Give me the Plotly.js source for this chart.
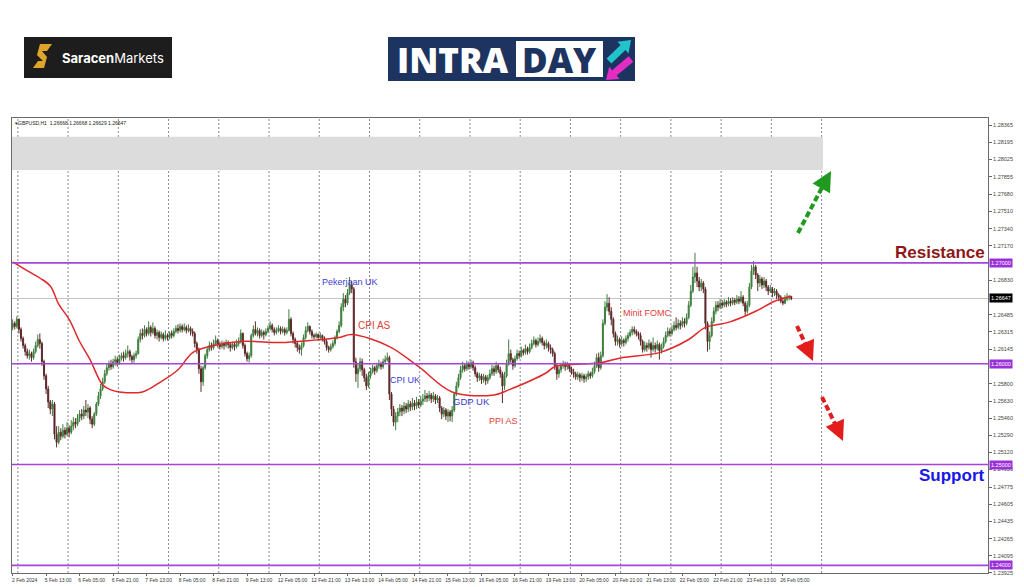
<!DOCTYPE html>
<html><head><meta charset="utf-8">
<script src="https://cdn.plot.ly/plotly-3.0.1.min.js"></script>
<style>html,body{margin:0;padding:0;background:#fff;}#chart{width:1024px;height:587px;}</style>
</head><body><div id="chart"></div>
<script>
const symbol = 'GBPUSD,H1';
const timeLabels = ['2 Feb 2024','5 Feb 13:00','6 Feb 05:00','6 Feb 21:00','7 Feb 13:00','8 Feb 05:00','8 Feb 21:00','9 Feb 13:00','12 Feb 05:00','12 Feb 21:00','13 Feb 13:00','14 Feb 05:00','14 Feb 21:00','15 Feb 13:00','16 Feb 05:00','16 Feb 21:00','19 Feb 13:00','20 Feb 05:00','20 Feb 21:00','21 Feb 13:00','22 Feb 05:00','22 Feb 21:00','23 Feb 13:00','26 Feb 05:00'];
const barsPerLabel = 16;
const barsPerDay = 24;

const open = [
1.2636,1.2640,1.2637,1.2644,1.2634,1.2625,1.2618,1.2612,1.2608,1.2610,
1.2606,1.2612,1.2618,1.2624,1.2620,1.2602,1.2588,1.2575,1.2562,1.2555,
1.2560,1.2530,1.2522,1.2532,1.2528,1.2534,1.2530,1.2536,1.2532,1.2538,
1.2542,1.2540,1.2546,1.2550,1.2548,1.2554,1.2552,1.2556,1.2545,1.2540,
1.2550,1.2560,1.2568,1.2575,1.2582,1.2590,1.2596,1.2600,1.2597,1.2602,
1.2604,1.2601,1.2605,1.2608,1.2606,1.2610,1.2612,1.2607,1.2604,1.2608,
1.2610,1.2624,1.2630,1.2628,1.2634,1.2630,1.2636,1.2631,1.2635,1.2628,
1.2631,1.2626,1.2629,1.2625,1.2628,1.2626,1.2630,1.2628,1.2632,1.2635,
1.2633,1.2637,1.2634,1.2636,1.2633,1.2635,1.2632,1.2630,1.2620,1.2614,
1.2595,1.2582,1.2596,1.2608,1.2614,1.2618,1.2616,1.2620,1.2623,1.2619,
1.2617,1.2620,1.2618,1.2621,1.2619,1.2616,1.2619,1.2617,1.2620,1.2622,
1.2630,1.2618,1.2610,1.2605,1.2608,1.2628,1.2634,1.2630,1.2633,1.2628,
1.2631,1.2629,1.2632,1.2635,1.2638,1.2634,1.2631,1.2633,1.2635,1.2632,
1.2634,1.2631,1.2633,1.2644,1.2630,1.2624,1.2620,1.2616,1.2614,1.2618,
1.2626,1.2633,1.2637,1.2632,1.2628,1.2627,1.2629,1.2626,1.2628,1.2625,
1.2622,1.2616,1.2614,1.2617,1.2620,1.2626,1.2632,1.2638,1.2656,1.2664,
1.2660,1.2670,1.2678,1.2674,1.2602,1.2590,1.2595,1.2602,1.2594,1.2586,
1.2578,1.2588,1.2592,1.2596,1.2593,1.2598,1.2600,1.2597,1.2602,1.2604,
1.2606,1.2570,1.2555,1.2542,1.2548,1.2552,1.2556,1.2553,1.2558,1.2555,
1.2560,1.2557,1.2561,1.2558,1.2562,1.2559,1.2563,1.2565,1.2568,1.2566,
1.2569,1.2565,1.2568,1.2564,1.2566,1.2556,1.2550,1.2554,1.2548,1.2552,
1.2548,1.2554,1.2570,1.2578,1.2586,1.2594,1.2598,1.2595,1.2600,1.2597,
1.2601,1.2596,1.2590,1.2586,1.2588,1.2584,1.2587,1.2583,1.2586,1.2590,
1.2595,1.2592,1.2598,1.2594,1.2590,1.2578,1.2588,1.2600,1.2610,1.2604,
1.2598,1.2605,1.2610,1.2608,1.2613,1.2611,1.2615,1.2612,1.2616,1.2620,
1.2623,1.2619,1.2622,1.2625,1.2621,1.2618,1.2620,1.2616,1.2614,1.2610,
1.2598,1.2590,1.2594,1.2598,1.2600,1.2597,1.2599,1.2595,1.2592,1.2590,
1.2587,1.2589,1.2586,1.2588,1.2585,1.2587,1.2590,1.2588,1.2592,1.2598,
1.2606,1.2596,1.2608,1.2640,1.2656,1.2660,1.2652,1.2644,1.2630,1.2622,
1.2624,1.2620,1.2623,1.2621,1.2625,1.2628,1.2631,1.2634,1.2632,1.2630,
1.2628,1.2622,1.2614,1.2618,1.2616,1.2620,1.2614,1.2618,1.2615,1.2619,
1.2613,1.2617,1.2622,1.2628,1.2632,1.2630,1.2634,1.2638,1.2636,1.2640,
1.2638,1.2642,1.2640,1.2646,1.2658,1.2672,1.2686,1.2690,1.2682,1.2676,
1.2680,1.2674,1.2640,1.2622,1.2628,1.2642,1.2652,1.2658,1.2656,1.2660,
1.2658,1.2661,1.2659,1.2662,1.2660,1.2663,1.2661,1.2664,1.2662,1.2666,
1.2660,1.2652,1.2658,1.2676,1.2692,1.2696,1.2688,1.2680,1.2684,1.2678,
1.2682,1.2676,1.2672,1.2674,1.2670,1.2672,1.2668,1.2666,1.2662,1.2660,
1.2664,1.2666,1.26668];

const high = [
1.2644,1.2642,1.2647,1.2645,1.2636,1.2627,1.2620,1.2615,1.2614,1.2612,
1.2615,1.2622,1.2629,1.2630,1.2622,1.2604,1.2590,1.2578,1.2564,1.2564,
1.2562,1.2538,1.2538,1.2536,1.2540,1.2537,1.2542,1.2539,1.2544,1.2547,
1.2546,1.2550,1.2554,1.2555,1.2558,1.2564,1.2560,1.2558,1.2548,1.2552,
1.2562,1.2572,1.2580,1.2586,1.2594,1.2600,1.2603,1.2604,1.2605,1.2608,
1.2607,1.2609,1.2611,1.2612,1.2614,1.2618,1.2614,1.2609,1.2611,1.2613,
1.2627,1.2634,1.2635,1.2638,1.2636,1.2642,1.2638,1.2641,1.2637,1.2634,
1.2633,1.2632,1.2631,1.2633,1.2630,1.2632,1.2633,1.2635,1.2638,1.2639,
1.2640,1.2639,1.2640,1.2638,1.2639,1.2637,1.2635,1.2632,1.2622,1.2616,
1.2598,1.2598,1.2610,1.2617,1.2622,1.2621,1.2624,1.2628,1.2625,1.2622,
1.2623,1.2622,1.2624,1.2623,1.2621,1.2622,1.2621,1.2624,1.2626,1.2634,
1.2631,1.2620,1.2612,1.2611,1.2630,1.2638,1.2642,1.2636,1.2635,1.2634,
1.2633,1.2635,1.2638,1.2642,1.2640,1.2636,1.2636,1.2638,1.2637,1.2637,
1.2636,1.2636,1.2654,1.2646,1.2632,1.2626,1.2622,1.2619,1.2621,1.2629,
1.2637,1.2641,1.2638,1.2634,1.2630,1.2631,1.2630,1.2631,1.2629,1.2627,
1.2624,1.2618,1.2620,1.2623,1.2628,1.2634,1.2642,1.2660,1.2670,1.2668,
1.2674,1.2686,1.2682,1.2676,1.2606,1.2600,1.2606,1.2605,1.2596,1.2590,
1.2592,1.2596,1.2599,1.2598,1.2601,1.2604,1.2602,1.2605,1.2608,1.2611,
1.2608,1.2572,1.2558,1.2552,1.2556,1.2560,1.2559,1.2562,1.2561,1.2564,
1.2563,1.2566,1.2564,1.2567,1.2565,1.2568,1.2570,1.2574,1.2571,1.2573,
1.2571,1.2572,1.2570,1.2569,1.2568,1.2558,1.2557,1.2556,1.2555,1.2554,
1.2558,1.2572,1.2582,1.2590,1.2598,1.2602,1.2600,1.2603,1.2602,1.2604,
1.2603,1.2598,1.2592,1.2591,1.2590,1.2590,1.2589,1.2589,1.2594,1.2599,
1.2598,1.2602,1.2600,1.2597,1.2592,1.2592,1.2604,1.2624,1.2614,1.2606,
1.2608,1.2614,1.2613,1.2617,1.2615,1.2619,1.2617,1.2620,1.2624,1.2627,
1.2625,1.2626,1.2629,1.2627,1.2623,1.2624,1.2622,1.2619,1.2616,1.2612,
1.2600,1.2597,1.2601,1.2603,1.2602,1.2602,1.2600,1.2597,1.2595,1.2592,
1.2592,1.2591,1.2591,1.2590,1.2590,1.2593,1.2592,1.2596,1.2602,1.2610,
1.2611,1.2612,1.2644,1.2662,1.2669,1.2666,1.2656,1.2646,1.2632,1.2628,
1.2626,1.2627,1.2625,1.2628,1.2631,1.2634,1.2637,1.2637,1.2634,1.2632,
1.2631,1.2624,1.2622,1.2621,1.2624,1.2622,1.2626,1.2621,1.2623,1.2621,
1.2620,1.2626,1.2632,1.2636,1.2635,1.2638,1.2642,1.2646,1.2644,1.2643,
1.2646,1.2645,1.2650,1.2662,1.2678,1.2696,1.2710,1.2696,1.2686,1.2684,
1.2682,1.2676,1.2642,1.2632,1.2646,1.2656,1.2662,1.2662,1.2664,1.2663,
1.2664,1.2663,1.2666,1.2665,1.2666,1.2665,1.2668,1.2667,1.2672,1.2668,
1.2662,1.2662,1.2680,1.2698,1.2702,1.2698,1.2690,1.2688,1.2686,1.2686,
1.2684,1.2678,1.2678,1.2676,1.2675,1.2674,1.2670,1.2668,1.2666,1.2668,
1.2670,1.2668,1.26668];

const low = [
1.2633,1.2634,1.2635,1.2630,1.2622,1.2615,1.2608,1.2605,1.2604,1.2602,
1.2604,1.2610,1.2616,1.2615,1.2598,1.2584,1.2570,1.2556,1.2550,1.2548,
1.2525,1.2517,1.2520,1.2524,1.2526,1.2526,1.2528,1.2527,1.2530,1.2534,
1.2536,1.2538,1.2542,1.2544,1.2545,1.2548,1.2546,1.2540,1.2536,1.2538,
1.2548,1.2558,1.2565,1.2573,1.2580,1.2588,1.2593,1.2594,1.2595,1.2598,
1.2597,1.2599,1.2603,1.2602,1.2604,1.2606,1.2603,1.2600,1.2601,1.2605,
1.2609,1.2621,1.2624,1.2626,1.2627,1.2628,1.2627,1.2629,1.2625,1.2624,
1.2622,1.2624,1.2622,1.2623,1.2623,1.2624,1.2625,1.2626,1.2630,1.2630,
1.2631,1.2631,1.2632,1.2630,1.2631,1.2628,1.2627,1.2616,1.2610,1.2590,
1.2572,1.2578,1.2594,1.2605,1.2612,1.2613,1.2614,1.2618,1.2616,1.2614,
1.2615,1.2614,1.2616,1.2615,1.2612,1.2614,1.2613,1.2615,1.2617,1.2620,
1.2615,1.2607,1.2602,1.2601,1.2606,1.2626,1.2628,1.2627,1.2625,1.2626,
1.2624,1.2627,1.2630,1.2633,1.2631,1.2628,1.2629,1.2631,1.2629,1.2630,
1.2628,1.2629,1.2632,1.2627,1.2620,1.2616,1.2612,1.2610,1.2608,1.2616,
1.2624,1.2631,1.2629,1.2625,1.2624,1.2625,1.2623,1.2624,1.2622,1.2619,
1.2613,1.2611,1.2612,1.2615,1.2618,1.2624,1.2630,1.2636,1.2652,1.2656,
1.2658,1.2668,1.2670,1.2596,1.2582,1.2576,1.2592,1.2588,1.2582,1.2574,
1.2576,1.2585,1.2590,1.2589,1.2591,1.2595,1.2594,1.2595,1.2600,1.2602,
1.2564,1.2548,1.2538,1.2534,1.2542,1.2548,1.2548,1.2550,1.2551,1.2552,
1.2553,1.2554,1.2554,1.2555,1.2556,1.2557,1.2559,1.2562,1.2562,1.2563,
1.2561,1.2562,1.2560,1.2561,1.2552,1.2545,1.2547,1.2544,1.2542,1.2543,
1.2542,1.2552,1.2568,1.2576,1.2584,1.2591,1.2592,1.2593,1.2594,1.2595,
1.2593,1.2587,1.2582,1.2583,1.2580,1.2581,1.2579,1.2580,1.2584,1.2588,
1.2588,1.2590,1.2591,1.2586,1.2561,1.2574,1.2586,1.2598,1.2601,1.2594,
1.2596,1.2603,1.2605,1.2606,1.2608,1.2609,1.2609,1.2610,1.2614,1.2618,
1.2616,1.2617,1.2620,1.2618,1.2614,1.2615,1.2612,1.2610,1.2607,1.2594,
1.2584,1.2586,1.2591,1.2595,1.2593,1.2594,1.2592,1.2589,1.2586,1.2584,
1.2584,1.2582,1.2583,1.2581,1.2582,1.2584,1.2585,1.2586,1.2590,1.2596,
1.2592,1.2594,1.2606,1.2638,1.2652,1.2648,1.2638,1.2626,1.2618,1.2618,
1.2616,1.2617,1.2617,1.2619,1.2622,1.2626,1.2628,1.2629,1.2627,1.2624,
1.2618,1.2611,1.2612,1.2612,1.2614,1.2606,1.2612,1.2611,1.2613,1.2604,
1.2610,1.2615,1.2620,1.2626,1.2627,1.2628,1.2632,1.2633,1.2634,1.2634,
1.2636,1.2636,1.2638,1.2644,1.2656,1.2670,1.2680,1.2676,1.2672,1.2672,
1.2670,1.2634,1.2612,1.2614,1.2626,1.2640,1.2649,1.2652,1.2654,1.2655,
1.2656,1.2656,1.2657,1.2657,1.2658,1.2658,1.2659,1.2659,1.2660,1.2657,
1.2648,1.2650,1.2656,1.2674,1.2688,1.2684,1.2672,1.2676,1.2674,1.2675,
1.2672,1.2668,1.2670,1.2666,1.2667,1.2664,1.2662,1.2660,1.2658,1.2659,
1.2662,1.2663,1.26629];

const close = [
1.2640,1.2637,1.2644,1.2634,1.2625,1.2618,1.2612,1.2608,1.2610,1.2606,
1.2612,1.2618,1.2624,1.2620,1.2602,1.2588,1.2575,1.2562,1.2555,1.2560,
1.2530,1.2522,1.2532,1.2528,1.2534,1.2530,1.2536,1.2532,1.2538,1.2542,
1.2540,1.2546,1.2550,1.2548,1.2554,1.2552,1.2556,1.2545,1.2540,1.2550,
1.2560,1.2568,1.2575,1.2582,1.2590,1.2596,1.2600,1.2597,1.2602,1.2604,
1.2601,1.2605,1.2608,1.2606,1.2610,1.2612,1.2607,1.2604,1.2608,1.2610,
1.2624,1.2630,1.2628,1.2634,1.2630,1.2636,1.2631,1.2635,1.2628,1.2631,
1.2626,1.2629,1.2625,1.2628,1.2626,1.2630,1.2628,1.2632,1.2635,1.2633,
1.2637,1.2634,1.2636,1.2633,1.2635,1.2632,1.2630,1.2620,1.2614,1.2595,
1.2582,1.2596,1.2608,1.2614,1.2618,1.2616,1.2620,1.2623,1.2619,1.2617,
1.2620,1.2618,1.2621,1.2619,1.2616,1.2619,1.2617,1.2620,1.2622,1.2630,
1.2618,1.2610,1.2605,1.2608,1.2628,1.2634,1.2630,1.2633,1.2628,1.2631,
1.2629,1.2632,1.2635,1.2638,1.2634,1.2631,1.2633,1.2635,1.2632,1.2634,
1.2631,1.2633,1.2644,1.2630,1.2624,1.2620,1.2616,1.2614,1.2618,1.2626,
1.2633,1.2637,1.2632,1.2628,1.2627,1.2629,1.2626,1.2628,1.2625,1.2622,
1.2616,1.2614,1.2617,1.2620,1.2626,1.2632,1.2638,1.2656,1.2664,1.2660,
1.2670,1.2678,1.2674,1.2602,1.2590,1.2595,1.2602,1.2594,1.2586,1.2578,
1.2588,1.2592,1.2596,1.2593,1.2598,1.2600,1.2597,1.2602,1.2604,1.2606,
1.2570,1.2555,1.2542,1.2548,1.2552,1.2556,1.2553,1.2558,1.2555,1.2560,
1.2557,1.2561,1.2558,1.2562,1.2559,1.2563,1.2565,1.2568,1.2566,1.2569,
1.2565,1.2568,1.2564,1.2566,1.2556,1.2550,1.2554,1.2548,1.2552,1.2548,
1.2554,1.2570,1.2578,1.2586,1.2594,1.2598,1.2595,1.2600,1.2597,1.2601,
1.2596,1.2590,1.2586,1.2588,1.2584,1.2587,1.2583,1.2586,1.2590,1.2595,
1.2592,1.2598,1.2594,1.2590,1.2578,1.2588,1.2600,1.2610,1.2604,1.2598,
1.2605,1.2610,1.2608,1.2613,1.2611,1.2615,1.2612,1.2616,1.2620,1.2623,
1.2619,1.2622,1.2625,1.2621,1.2618,1.2620,1.2616,1.2614,1.2610,1.2598,
1.2590,1.2594,1.2598,1.2600,1.2597,1.2599,1.2595,1.2592,1.2590,1.2587,
1.2589,1.2586,1.2588,1.2585,1.2587,1.2590,1.2588,1.2592,1.2598,1.2606,
1.2596,1.2608,1.2640,1.2656,1.2660,1.2652,1.2644,1.2630,1.2622,1.2624,
1.2620,1.2623,1.2621,1.2625,1.2628,1.2631,1.2634,1.2632,1.2630,1.2628,
1.2622,1.2614,1.2618,1.2616,1.2620,1.2614,1.2618,1.2615,1.2619,1.2613,
1.2617,1.2622,1.2628,1.2632,1.2630,1.2634,1.2638,1.2636,1.2640,1.2638,
1.2642,1.2640,1.2646,1.2658,1.2672,1.2686,1.2690,1.2682,1.2676,1.2680,
1.2674,1.2640,1.2622,1.2628,1.2642,1.2652,1.2658,1.2656,1.2660,1.2658,
1.2661,1.2659,1.2662,1.2660,1.2663,1.2661,1.2664,1.2662,1.2666,1.2660,
1.2652,1.2658,1.2676,1.2692,1.2696,1.2688,1.2680,1.2684,1.2678,1.2682,
1.2676,1.2672,1.2674,1.2670,1.2672,1.2668,1.2666,1.2662,1.2660,1.2664,
1.2666,1.26668,1.26647];

const maBars   = [0,8,13,18,22,27,32,37,43,47,51,62,70,79,86,94,109,128,142,156,162,180,194,210,230,237,255,259,281,291,309,323,331,342,355,364,372];
const maValues = [1.2701,1.2691,1.2685,1.2677,1.2659,1.2644,1.2622,1.2604,1.2579,1.2574,1.2572,1.2572,1.2581,1.2594,1.2611,1.2617,1.2622,1.2621,1.2623,1.2626,1.2629,1.2617,1.2597,1.2572,1.2569,1.2574,1.2591,1.2597,1.2601,1.2606,1.2611,1.2624,1.2636,1.2641,1.2652,1.2662,1.2667];

const priceTicks = [1.28365,1.28195,1.28025,1.27855,1.27680,1.27510,1.27340,1.27170,1.26830,1.26485,1.26315,1.26145,1.25800,1.25630,1.25460,1.25290,1.25120,1.24950,1.24775,1.24605,1.24435,1.24265,1.24095,1.23925];
const levelPrices = [1.27000,1.26000,1.25000,1.24000];
const currentPrice = 1.26647;
const zonePrices = [1.2792,1.2825];
const eventLabels = ['Pekerjaan UK','CPI AS','CPI UK','GDP UK','PPI AS','Minit FOMC'];
const levelLabels = ['Resistance','Support'];

// ---------- layout helpers (pixel -> paper) ----------
const L=12,R=988,T=118,B=573;
const PX = x => (x-L)/(R-L);
const PY = y => (B-y)/(B-T);
const path = pts => 'M ' + pts.map(p => PX(p[0]).toFixed(5)+','+PY(p[1]).toFixed(5)).join(' L ') + ' Z';

const n = close.length;
const idx = close.map((_,i)=>i);
const fmt = v => v.toFixed(5);

const traces = [
  {type:'candlestick', x:idx, open:open, high:high, low:low, close:close,
   increasing:{line:{color:'#3f7d3f',width:1}, fillcolor:'#2f8a2f'},
   decreasing:{line:{color:'#5e2a2a',width:1}, fillcolor:'#4a1212'},
   whiskerwidth:0, hoverinfo:'skip', showlegend:false},
  {type:'scatter', mode:'lines', x:maBars, y:maValues,
   line:{color:'#e0282a', width:1.5, shape:'spline', smoothing:1}, hoverinfo:'skip', showlegend:false}
];

const shapes = [];
const lastGridBar = 2.5 + 16*barsPerDay;
for (let g = 2.5; g <= lastGridBar + 0.01; g += barsPerDay) {
  shapes.push({type:'line', xref:'x', yref:'paper', x0:g, x1:g, y0:0, y1:1, layer:'below',
    line:{color:'#8a8a8a', width:1, dash:'2px,2px'}});
}
shapes.push({type:'rect', xref:'paper', yref:'y', x0:0, x1:PX(823), y0:zonePrices[0], y1:zonePrices[1],
  fillcolor:'#dcdcdc', line:{width:0}, layer:'below'});
shapes.push({type:'line', xref:'paper', yref:'y', x0:0, x1:1, y0:currentPrice, y1:currentPrice,
  line:{color:'#c4c4c4', width:1}, layer:'below'});
levelPrices.forEach(p => shapes.push({type:'line', xref:'paper', yref:'y', x0:0, x1:1, y0:p, y1:p,
  line:{color:'#a544d8', width:1.6}, layer:'above'}));

const arrows = [
  {from:[798,233], to:[826,180], tip:[831,171], color:'#1f9a1f'},
  {from:[797,326], to:[809,352], tip:[813,361], color:'#e31c1c'},
  {from:[822,397], to:[839,432], tip:[843,441], color:'#e31c1c'}
];
arrows.forEach(a => shapes.push({type:'line', xref:'paper', yref:'paper',
  x0:PX(a.from[0]), y0:PY(a.from[1]), x1:PX(a.to[0]), y1:PY(a.to[1]),
  line:{color:a.color, width:4, dash:'6px,3px'}}));

shapes.push({type:'rect', xref:'paper', yref:'paper', x0:PX(24), x1:PX(172), y0:PY(78), y1:PY(37),
  fillcolor:'#1d1d1d', line:{width:0}});
shapes.push({type:'path', xref:'paper', yref:'paper',
  path: path([[40,44],[52,44],[47,51],[42,51],[47,57],[44,68],[33,68],[38,61],[43,61],[37,55]]),
  fillcolor:'#dea52a', line:{width:0}});
shapes.push({type:'rect', xref:'paper', yref:'paper', x0:PX(388), x1:PX(635), y0:PY(81), y1:PY(37),
  fillcolor:'#1d3461', line:{width:0}});
shapes.push({type:'rect', xref:'paper', yref:'paper', x0:PX(516), x1:PX(603), y0:PY(77), y1:PY(41),
  fillcolor:'#ffffff', line:{width:0}});
shapes.push({type:'path', xref:'paper', yref:'paper',
  path: path([[606.6,58.5],[620.6,45.1],[617.5,41.8],[631,40],[628.5,53.4],[625.4,50.1],[611.4,63.5]]),
  fillcolor:'#22c4cc', line:{width:0}});
shapes.push({type:'path', xref:'paper', yref:'paper',
  path: path([[628.7,56.3],[612.1,70.2],[609.2,66.8],[606,80],[619.6,79.1],[616.7,75.6],[633.3,61.7]]),
  fillcolor:'#e22cc4', line:{width:0}});

const annotations = [];
annotations.push({xref:'paper', yref:'paper', x:PX(13), y:PY(123), xanchor:'left', yanchor:'middle', showarrow:false,
  text:'\u25BE' + symbol + '  ' + [open[n-1],high[n-1],low[n-1],close[n-1]].map(fmt).join(' '),
  font:{family:'Liberation Sans', size:5, color:'#222'}});
levelPrices.forEach(p => annotations.push({xref:'paper', yref:'y', x:1, y:p, xanchor:'left', yanchor:'middle',
  xshift:1, showarrow:false, text:fmt(p), bgcolor:'#9b30d9', borderpad:1,
  font:{family:'Liberation Sans', size:5.5, color:'#ffffff'}}));
annotations.push({xref:'paper', yref:'y', x:1, y:currentPrice, xanchor:'left', yanchor:'middle',
  xshift:1, showarrow:false, text:fmt(currentPrice), bgcolor:'#000000', borderpad:1,
  font:{family:'Liberation Sans', size:5.5, color:'#ffffff'}});
const evPos = [[320,282,9,'#3b3bd0'],[374,325,10,'#e2403a'],[405,380,9,'#3b3bd0'],[471,401,9.5,'#3b3bd0'],[504,421,9,'#e2403a'],[647,313,9,'#e2403a']];
eventLabels.forEach((t,i) => annotations.push({xref:'paper', yref:'paper', x:PX(evPos[i][0]), y:PY(evPos[i][1]),
  showarrow:false, text:t, font:{family:'Liberation Sans', size:evPos[i][2], color:evPos[i][3]}}));
annotations.push({xref:'paper', yref:'paper', x:PX(987), y:PY(253), xanchor:'right', yanchor:'middle', showarrow:false,
  text:'<b>'+levelLabels[0]+'</b>', font:{family:'Liberation Sans', size:17, color:'#8e1616'}});
annotations.push({xref:'paper', yref:'paper', x:PX(986), y:PY(475), xanchor:'right', yanchor:'middle', showarrow:false,
  text:'<b>'+levelLabels[1]+'</b>', font:{family:'Liberation Sans', size:17, color:'#1717e8'}});
arrows.forEach(a => {
  const dx = a.tip[0]-a.to[0], dy = a.tip[1]-a.to[1];
  const len = Math.hypot(dx,dy);
  annotations.push({xref:'paper', yref:'paper', x:PX(a.tip[0]), y:PY(a.tip[1]), ax:-dx/len*12, ay:-dy/len*12,
    text:'', showarrow:true, arrowhead:2, arrowsize:1, arrowwidth:4, arrowcolor:a.color, standoff:0});
});
annotations.push({xref:'paper', yref:'paper', x:PX(60), y:PY(58), xanchor:'left', yanchor:'middle', showarrow:false,
  text:'<b>Saracen</b>Markets', font:{family:'Inter', size:13, color:'#ffffff'}});
annotations.push({xref:'paper', yref:'paper', x:PX(453), y:PY(59), xanchor:'center', yanchor:'middle', showarrow:false,
  text:'INTRA', font:{family:'Open Sans', size:35, weight:800, color:'#ffffff'}});
annotations.push({xref:'paper', yref:'paper', x:PX(559), y:PY(59), xanchor:'center', yanchor:'middle', showarrow:false,
  text:'DAY', font:{family:'Open Sans', size:35, weight:800, color:'#1d3461'}});

const layout = {
  width:1024, height:587,
  margin:{l:L, r:1024-R, t:T, b:587-B, pad:0},
  paper_bgcolor:'#ffffff', plot_bgcolor:'#ffffff',
  showlegend:false,
  xaxis:{range:[-0.3, 466.0], showgrid:false, zeroline:false, showline:true, mirror:true,
    linecolor:'#6a6a6a', linewidth:1,
    tickvals: timeLabels.map((_,i)=>i*barsPerLabel), ticktext: timeLabels,
    tickangle:0, ticks:'outside', ticklen:2, tickcolor:'#666', ticklabelshift:12, ticklabelstandoff:0,
    tickfont:{family:'Liberation Sans', size:5, color:'#333'},
    rangeslider:{visible:false}, fixedrange:true},
  yaxis:{side:'right', range:[1.23924, 1.28437], showgrid:false, zeroline:false, showline:true, mirror:true,
    linecolor:'#6a6a6a', linewidth:1,
    tickvals: priceTicks, ticktext: priceTicks.map(fmt),
    ticks:'outside', ticklen:3, tickcolor:'#666',
    tickfont:{family:'Liberation Sans', size:5.5, color:'#444'}, fixedrange:true},
  shapes: shapes,
  annotations: annotations
};

Plotly.newPlot('chart', traces, layout, {staticPlot:true, displayModeBar:false});
</script>
</body></html>
